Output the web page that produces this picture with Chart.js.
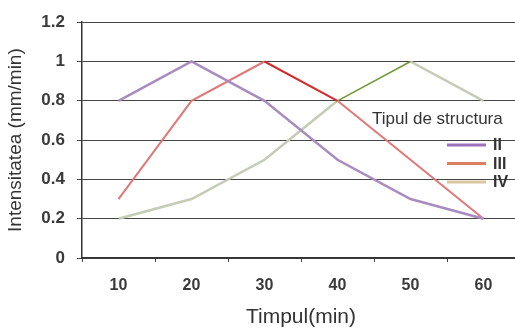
<!DOCTYPE html>
<html>
<head>
<meta charset="utf-8">
<script src="https://cdn.jsdelivr.net/npm/chart.js@4.4.1/dist/chart.umd.min.js"></script>
<style>
  html, body { margin: 0; padding: 0; background: #fff; overflow: hidden; }
  #wrap { width: 520px; height: 334px; }
</style>
</head>
<body>
<div id="wrap"><canvas id="mycanvas" width="520" height="334"></canvas></div>
<script>
var timpul = ['10', '20', '30', '40', '50', '60'];
var tipII = [0.8, 1.0, 0.8, 0.5, 0.3, 0.2];
var tipIII = [0.3, 0.8, 1.0, 0.8, 0.5, 0.2];
var tipIV = [0.2, 0.3, 0.5, 0.8, 1.0, 0.8];
var serii = ['II', 'III', 'IV'];

var font = "'Liberation Sans', Arial, sans-serif";

// legenda desenata in zona graficului, ca in original
var legendaPlugin = {
	id: 'legenda',
	afterDraw: function(chart) {
		var ctx = chart.ctx;
		ctx.save();
		ctx.fillStyle = '#333';
		ctx.font = '17px ' + font;
		ctx.textBaseline = 'middle';
		ctx.textAlign = 'left';
		ctx.fillText('Tipul de structura', 372, 119);
		ctx.font = 'bold 16px ' + font;
		chart.data.datasets.forEach(function(ds, i) {
			var y = 145 + i * 18.5;
			ctx.strokeStyle = ds.legendColor;
			ctx.lineWidth = 3;
			ctx.beginPath();
			ctx.moveTo(447, y);
			ctx.lineTo(486, y);
			ctx.stroke();
			ctx.fillStyle = '#333';
			ctx.fillText(ds.label, 493, y + 1);
		});
		ctx.restore();
	}
};

var chartdata = {
	labels: timpul,
	datasets: [
		{
			label: serii[0],
			data: tipII,
			borderColor: '#a88cc0',
			legendColor: '#a070b8',
			borderWidth: 2.5
		},
		{
			label: serii[1],
			data: tipIII,
			borderColor: '#e07878',
			legendColor: '#d88060',
			borderWidth: 2,
			segment: {
				borderColor: function(c) { return c.p0DataIndex === 2 ? '#d42a2a' : undefined; }
			}
		},
		{
			label: serii[2],
			data: tipIV,
			borderColor: '#c4ccb4',
			legendColor: '#d8c8a0',
			borderWidth: 2.5,
			segment: {
				borderColor: function(c) { return c.p0DataIndex === 3 ? '#6f9a35' : undefined; },
				borderWidth: function(c) { return c.p0DataIndex === 3 ? 1.5 : undefined; }
			}
		}
	]
};

var ctx = document.getElementById('mycanvas');

var lineGraph = new Chart(ctx, {
	type: 'line',
	data: chartdata,
	options: {
		responsive: false,
		animation: false,
		elements: { point: { radius: 0 }, line: { tension: 0 } },
		layout: { padding: { top: 12, right: 0, left: 0, bottom: 0 } },
		plugins: { legend: { display: false }, tooltip: { enabled: false } },
		scales: {
			x: {
				offset: true,
				afterFit: function(s) { s.height = 76; },
				grid: { offset: true, drawOnChartArea: false, color: '#444', tickLength: 4 },
				border: { color: '#333', width: 1.5 },
				ticks: { color: '#3a3a3a', font: { family: font, size: 16, weight: 'bold' }, padding: 14 },
				title: { display: true, text: 'Timpul(min)', color: '#333', font: { family: font, size: 21 }, padding: { top: 3 } }
			},
			y: {
				min: 0,
				max: 1.2,
				afterFit: function(s) { s.width = 82; },
				ticks: {
					stepSize: 0.2, color: '#3a3a3a', font: { family: font, size: 17, weight: 'bold' }, padding: 12,
					callback: function(v) { return String(Math.round(v * 10) / 10); }
				},
				grid: { color: '#444', tickLength: 5 },
				border: { color: '#333', width: 1.5 },
				title: { display: true, text: 'Intensitatea (mm/min)', color: '#333', font: { family: font, size: 19 }, padding: { bottom: 1 } }
			}
		}
	},
	plugins: [legendaPlugin]
});
</script>
</body>
</html>
